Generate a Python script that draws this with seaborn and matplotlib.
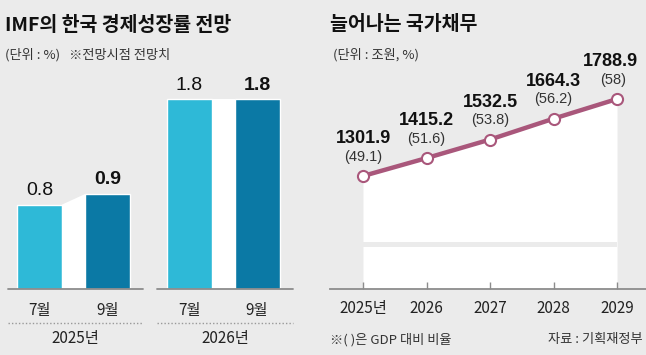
import numpy as np
import pandas as pd
import matplotlib
matplotlib.use("Agg")
import matplotlib.pyplot as plt
import seaborn as sns

# left: IMF growth forecast
months = ["7월", "9월", "7월", "9월"]
growth = [0.8, 0.9, 1.8, 1.8]
growth_years = ["2025년", "2026년"]
bar_pos = [0.0, 1.0, 2.2, 3.2]

# right: national debt
years = [2025, 2026, 2027, 2028, 2029]
year_labels = ["2025년", "2026", "2027", "2028", "2029"]
debt = [1301.9, 1415.2, 1532.5, 1664.3, 1788.9]
debt_ratio = ["49.1", "51.6", "53.8", "56.2", "58"]

BG = "#ebebeb"
LIGHT = "#2eb9d7"
DARK = "#0b79a5"
LINE = "#a9577b"
AXC = "#8c8c8c"

sns.set_theme(style="white")
KR = ["Noto Sans CJK KR", "DejaVu Sans"]
NUM = ["Liberation Sans", "DejaVu Sans"]
plt.rcParams["font.family"] = KR

W, H = 646, 355
fig = plt.figure(figsize=(W / 100, H / 100), dpi=100, facecolor=BG)

def fx(px):
    return px / W

def fy(py):
    return 1 - py / H

# ---------- left panel ----------
axL = fig.add_axes([fx(8), fy(289), fx(285), (289 - 78) / H])
axL.set_facecolor(BG)
df = pd.DataFrame({"pos": bar_pos, "val": growth, "month": months})
sns.barplot(data=df, x="pos", y="val", hue="month", palette=[LIGHT, DARK],
            native_scale=True, dodge=False, width=0.66, legend=False,
            saturation=1, ax=axL)
hw = 0.33
# white connectors between 7월 and 9월
for i in (0, 2):
    x0, x1 = bar_pos[i] + hw, bar_pos[i + 1] - hw
    axL.fill([x0, x1, x1, x0], [growth[i], growth[i + 1], 0, 0],
             color="white", lw=0, zorder=1)
axL.set_xlim((8 - 39.5) / 68, (293 - 39.5) / 68)
axL.set_ylim(0, 2.0)
axL.axis("off")
for a, b in [(8, 143), (157, 293)]:
    axL.plot([(a - 39.5) / 68, (b - 39.5) / 68], [0, 0], color=AXC, lw=1.3,
             clip_on=False, zorder=3)
for i, (p, v) in enumerate(zip(bar_pos, growth)):
    axL.annotate(f"{v}", (p, v), xytext=(0, 4), textcoords="offset points",
                 ha="center", va="bottom", fontsize=14, family=NUM,
                 fontweight="bold" if i % 2 else "normal", color="#111")
    axL.annotate(months[i], (p, 0), xytext=(0, -9), textcoords="offset points",
                 ha="center", va="top", fontsize=11, color="#222",
                 annotation_clip=False)
for g, (a, b) in enumerate([(8, 143), (157, 293)]):
    axL.plot([(a - 39.5) / 68, (b - 39.5) / 68], [-0.32, -0.32], color="#999",
             lw=1, ls=(0, (1, 1.5)), clip_on=False)
    axL.annotate(growth_years[g], ((a + b) / 2 / 68 - 39.5 / 68, -0.32),
                 xytext=(0, -5), textcoords="offset points", ha="center",
                 va="top", fontsize=11, color="#222", annotation_clip=False)

fig.text(fx(5), fy(25), "IMF의 한국 경제성장률 전망", fontsize=14,
         fontweight="bold", va="center", color="#111")
fig.text(fx(5), fy(55), "(단위 : %)   ※전망시점 전망치", fontsize=9.5,
         va="center", color="#333")

# ---------- right panel ----------
ppu = 63.5
axR = fig.add_axes([fx(330), fy(289), fx(316), (289 - 78) / H])
axR.set_facecolor(BG)
scale = 77 / (1788.9 - 1301.9)
ybot = 1301.9 - (289 - 176) / scale
ytop = 1788.9 + (99 - 78) / scale
axR.fill_between(years, debt, ybot, color="white", lw=0, zorder=0)
band_lo = 1301.9 - (247 - 176) / scale
band_hi = 1301.9 - (242 - 176) / scale
axR.fill_between([years[0], years[-1]], band_lo, band_hi, color=BG, lw=0,
                 zorder=1)
sns.lineplot(x=years, y=debt, color=LINE, lw=3.2, marker="o", markersize=8,
             markerfacecolor="white", markeredgecolor=LINE,
             markeredgewidth=1.5, ax=axR, zorder=3)
axR.set_xlim(2025 - 33 / ppu, 2029 + 29 / ppu)
axR.set_ylim(ybot, ytop)
for s in ["top", "left", "right"]:
    axR.spines[s].set_visible(False)
axR.spines["bottom"].set_color(AXC)
axR.spines["bottom"].set_linewidth(1.3)
axR.set_yticks([])
axR.set_xticks(years)
axR.set_xticklabels(year_labels)
axR.tick_params(axis="x", direction="in", length=5, width=1, color=AXC,
                labelsize=11, labelcolor="#222", pad=8, bottom=True)
axR.set_xlabel("")
axR.set_ylabel("")
for i, (x, v, r) in enumerate(zip(years, debt, debt_ratio)):
    dx = -5 if i == len(years) - 1 else 0
    axR.annotate(f"{v}", (x, v), xytext=(dx, 27), textcoords="offset points",
                 ha="center", va="center", fontsize=13, fontweight="bold",
                 family=NUM, color="#111", annotation_clip=False)
    axR.annotate(f"({r})", (x, v), xytext=(dx / 2, 14),
                 textcoords="offset points", ha="center", va="center",
                 fontsize=10.5, family=NUM, color="#333",
                 annotation_clip=False)

fig.text(fx(330), fy(25), "늘어나는 국가채무", fontsize=14,
         fontweight="bold", va="center", color="#111")
fig.text(fx(333), fy(55), "(단위 : 조원, %)", fontsize=9.5, va="center",
         color="#333")
fig.text(fx(330), fy(340), "※( )은 GDP 대비 비율", fontsize=9.5,
         va="center", color="#333")
fig.text(fx(643), fy(340), "자료 : 기획재정부", fontsize=9.5, va="center",
         ha="right", color="#333")

fig.savefig("out.png", dpi=100, facecolor=BG)
